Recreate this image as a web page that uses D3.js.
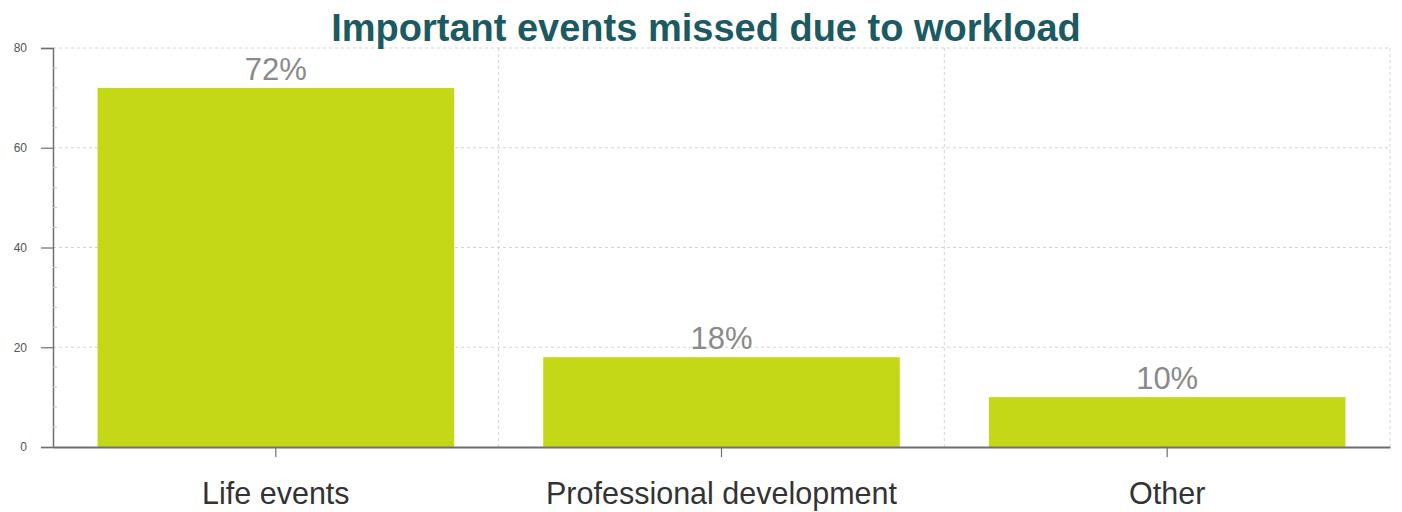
<!DOCTYPE html>
<html>
<head>
<meta charset="utf-8">
<script src="https://cdn.jsdelivr.net/npm/d3@7"></script>
<style>
  html, body { margin: 0; padding: 0; background: #fff; }
  svg { display: block; }
</style>
</head>
<body>
<svg id="chart" width="1402" height="512"></svg>
<script>
// Chart data
const categories = ["Life events", "Professional development", "Other"];
const values = [72, 18, 10];
const valueLabels = ["72%", "18%", "10%"];
const yTicks = [0, 20, 40, 60, 80];
const chartTitle = "Important events missed due to workload";

const W = 1402, H = 512;
const margin = { top: 48, right: 12, bottom: 65, left: 53 };
const svg = d3.select("#chart");
const innerW = W - margin.left - margin.right;
const innerH = H - margin.top - margin.bottom;
const FONT = "Liberation Sans, Arial, sans-serif";

const g = svg.append("g").attr("transform", `translate(${margin.left},${margin.top})`);

const x = d3.scaleBand().domain(categories).range([0, innerW]).padding(0);
const y = d3.scaleLinear().domain([0, 80]).range([innerH, 0]);

// Dashed grid: horizontal at y ticks, vertical at category boundaries
const grid = g.append("g").attr("class", "grid");
grid.selectAll("line.h")
  .data(yTicks.filter(d => d > 0))
  .join("line")
  .attr("x1", 0).attr("x2", innerW)
  .attr("y1", d => y(d)).attr("y2", d => y(d))
  .attr("stroke", "#d4d4d4").attr("stroke-width", 1)
  .attr("stroke-dasharray", "3,3");
grid.selectAll("line.v")
  .data(categories)
  .join("line")
  .attr("x1", d => x(d) + x.bandwidth()).attr("x2", d => x(d) + x.bandwidth())
  .attr("y1", 0).attr("y2", innerH)
  .attr("stroke", "#d4d4d4").attr("stroke-width", 1)
  .attr("stroke-dasharray", "3,3");

// Bars: 80% of each category band
const barW = x.bandwidth() * 0.8;
g.selectAll("rect.bar")
  .data(values)
  .join("rect")
  .attr("class", "bar")
  .attr("x", (d, i) => x(categories[i]) + (x.bandwidth() - barW) / 2)
  .attr("y", d => y(d))
  .attr("width", barW)
  .attr("height", d => innerH - y(d))
  .attr("fill", "#c4d817");

// Value labels above bars
g.selectAll("text.val")
  .data(values)
  .join("text")
  .attr("x", (d, i) => x(categories[i]) + x.bandwidth() / 2)
  .attr("y", d => y(d) - 8)
  .attr("text-anchor", "middle")
  .attr("font-family", FONT)
  .attr("font-size", 31)
  .attr("fill", "#8a8a8a")
  .text((d, i) => valueLabels[i]);

// Y axis with minor ticks
const yAxis = g.append("g")
  .call(d3.axisLeft(y).tickValues(yTicks).tickSize(12).tickPadding(14));
yAxis.select(".domain").attr("stroke", "#6f6f6f").attr("stroke-width", 1.5);
yAxis.selectAll(".tick line").attr("stroke", "#6f6f6f").attr("stroke-width", 1.2);
yAxis.selectAll(".tick text")
  .attr("font-family", FONT)
  .attr("font-size", 12).attr("fill", "#555");
const minor = d3.range(0, 80, 4).filter(v => v % 20 !== 0);
g.append("g").selectAll("line")
  .data(minor)
  .join("line")
  .attr("x1", 0).attr("x2", 4)
  .attr("y1", d => y(d)).attr("y2", d => y(d))
  .attr("stroke", "#c8c8c8").attr("stroke-width", 1);

// X axis: ticks at category centres
const xAxis = g.append("g")
  .attr("transform", `translate(0,${innerH})`)
  .call(d3.axisBottom(x).tickSize(10).tickPadding(25).tickSizeOuter(0));
xAxis.select(".domain").attr("stroke", "#6f6f6f").attr("stroke-width", 2);
xAxis.selectAll(".tick line").attr("stroke", "#6f6f6f").attr("stroke-width", 1.2);
xAxis.selectAll(".tick text")
  .attr("font-family", FONT)
  .attr("font-size", 30.5).attr("fill", "#333");

// Title
svg.append("text")
  .attr("x", 706).attr("y", 41)
  .attr("text-anchor", "middle")
  .attr("font-family", FONT)
  .attr("font-weight", "bold")
  .attr("font-size", 38)
  .attr("fill", "#1b5a62")
  .text(chartTitle);
</script>
</body>
</html>
